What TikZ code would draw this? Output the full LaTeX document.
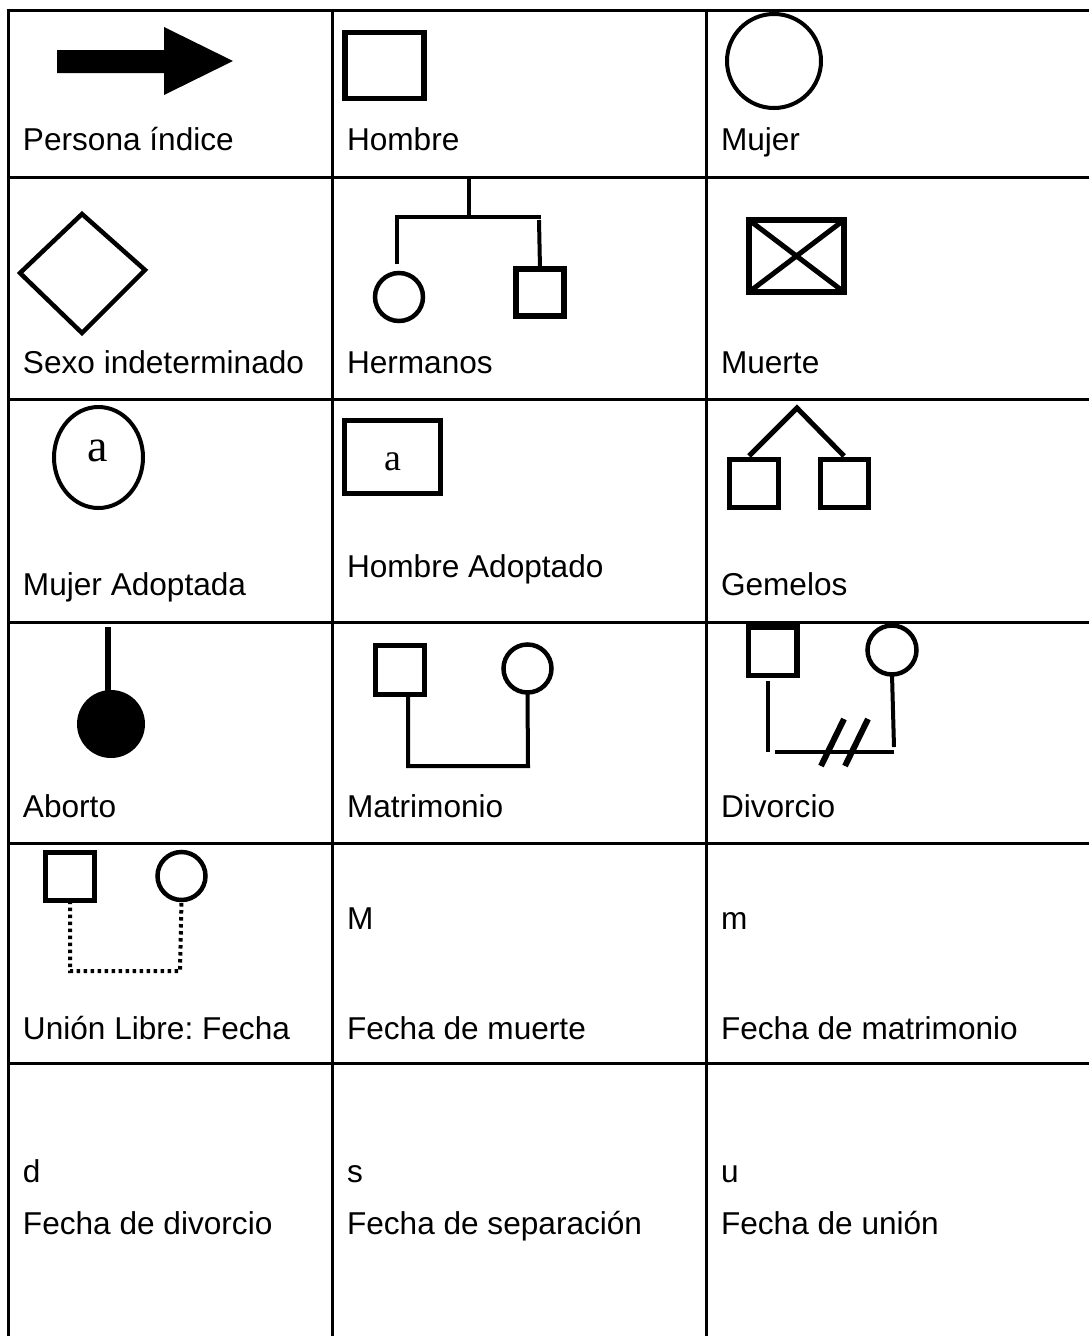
\documentclass[tikz,border=0pt]{standalone}
\usepackage{fontspec}
\setmainfont{Liberation Sans}
\newfontfamily\serifa{Liberation Serif}
\usetikzlibrary{shapes.geometric}
\frenchspacing
\begin{document}
\begin{tikzpicture}[x=1pt,y=-1pt,
  gridline/.style={line width=3pt},
  lbl/.style={anchor=base west,inner sep=0pt,outer sep=0pt,font=\fontsize{31.6}{38}\selectfont},
  sq/.style={draw,rectangle,line width=5.5pt,inner sep=0pt,outer sep=0pt},
  ci/.style={draw,circle,line width=4.5pt,inner sep=0pt,outer sep=0pt},
  conn/.style={line width=4pt},
  dotconn/.style={line width=4pt,dash pattern=on 3.5pt off 3.5pt},
  letra/.style={anchor=base,inner sep=0pt,outer sep=0pt}]
\useasboundingbox (0,0) rectangle (1089,1336);
% grid
\foreach \yy in {10,177,399,622,843,1063} {\draw[gridline] (6.5,\yy) -- (1095,\yy);}
\foreach \xx in {8,332,706} {\draw[gridline] (\xx,8.5) -- (\xx,1340);}
% row 1
\fill (57,50) -- (164,50) -- (164,27) -- (233,61) -- (164,95) -- (164,73) -- (57,73) -- cycle;
\node[lbl] (t11) at (23,150) {Persona índice};
\node[sq,minimum width=79pt,minimum height=66pt] (hombre) at (384.5,65.5) {};
\node[lbl] (t12) at (347,150) {Hombre};
\node[ci,line width=4pt,minimum size=94pt] (mujer) at (774,61) {};
\node[lbl] (t13) at (721,150) {Mujer};
% row 2
\draw[line width=4.5pt] (82,214) -- (145,270) -- (82,333) -- (20,273) -- cycle;
\node[lbl] (t21) at (23,373) {Sexo indeterminado};
\node[ci,minimum size=48pt] (hc) at (399,297) {};
\node[sq,minimum width=48pt,minimum height=47pt] (hs) at (540,292.5) {};
\coordinate (hp) at (469,179);
\coordinate (hl) at (397,217);
\coordinate (hr) at (539,220);
\draw[conn] (hp) -- (469,219);
\draw[conn] (395,217) -- (541,217);
\draw[conn] (hl) -- (397,264);
\draw[conn] (hr) -- (hs.north);
\node[lbl] (t22) at (347,373) {Hermanos};
\node[sq,line width=5.5pt,minimum width=95pt,minimum height=72pt] (mu) at (796.5,256) {};
\draw[line width=5pt] (mu.north west) -- (mu.south east) (mu.south west) -- (mu.north east);
\node[lbl] (t23) at (721,373) {Muerte};
% row 3
\node[draw,ellipse,line width=4pt,inner sep=0pt,minimum width=89pt,minimum height=101pt] (ma) at (98.5,457.5) {};
\node[letra,font=\serifa\fontsize{46}{50}\selectfont] (maa) at (98,461) {a};
\node[lbl] (t31) at (23,595) {Mujer Adoptada};
\node[sq,minimum width=96pt,minimum height=73pt] (ha) at (392.5,457) {};
\node[letra,font=\serifa\fontsize{38}{42}\selectfont] (haa) at (393,470) {a};
\node[lbl] (t32) at (347,577) {Hombre Adoptado};
\coordinate (gapex) at (797,408);
\coordinate (gl) at (749,456);
\coordinate (gr) at (844,456);
\node[sq,minimum width=49pt,minimum height=48pt] (g1) at (754,483.5) {};
\node[sq,minimum width=48pt,minimum height=48pt] (g2) at (844.5,483.5) {};
\draw[line width=5pt] (gl) -- (gapex) -- (gr);
\node[lbl] (t33) at (721,595) {Gemelos};
% row 4
\coordinate (ab) at (108,627);
\node[circle,fill,inner sep=0pt,minimum size=68pt] (abc) at (111,724) {};
\draw[line width=6pt] (ab) -- (108,692);
\node[lbl] (t41) at (23,817) {Aborto};
\node[sq,minimum width=49pt,minimum height=49pt] (ms) at (400,670) {};
\node[ci,minimum size=48pt] (mc) at (527.5,668.5) {};
\coordinate (msl) at (408,697);
\draw[conn] (msl) |- (528,766) -- (mc.south);
\node[lbl] (t42) at (347,817) {Matrimonio};
\node[sq,minimum width=48.5pt,minimum height=48.5pt] (ds) at (772.5,651) {};
\node[ci,minimum size=49pt] (dc) at (892,650) {};
\coordinate (dsl) at (768,681);
\coordinate (dh) at (775,752);
\draw[conn] (dsl) -- (768,752);
\draw[conn] (dh) -- (894,752);
\draw[conn] (dc.south) -- (894,747);
\draw[line width=6pt] (821,766) -- (844,719) (845,766) -- (868,719);
\node[lbl] (t43) at (721,817) {Divorcio};
% row 5
\node[sq,minimum width=49pt,minimum height=48pt] (us) at (70,876.5) {};
\node[ci,minimum size=48pt] (uc) at (181.5,876) {};
\draw[dotconn] (us.south) -- (70,971) -- (180,971) -- (uc.south);
\node[lbl] (t51) at (23,1039) {Unión Libre: Fecha};
\node[lbl] (t52a) at (347,929) {M};
\node[lbl] (t52) at (347,1039) {Fecha de muerte};
\node[lbl] (t53a) at (721,929) {m};
\node[lbl] (t53) at (721,1039) {Fecha de matrimonio};
% row 6
\node[lbl] (t61a) at (23,1182) {d};
\node[lbl] (t61) at (23,1234) {Fecha de divorcio};
\node[lbl] (t62a) at (347,1182) {s};
\node[lbl] (t62) at (347,1234) {Fecha de separación};
\node[lbl] (t63a) at (721,1182) {u};
\node[lbl] (t63) at (721,1234) {Fecha de unión};
\end{tikzpicture}
\end{document}
